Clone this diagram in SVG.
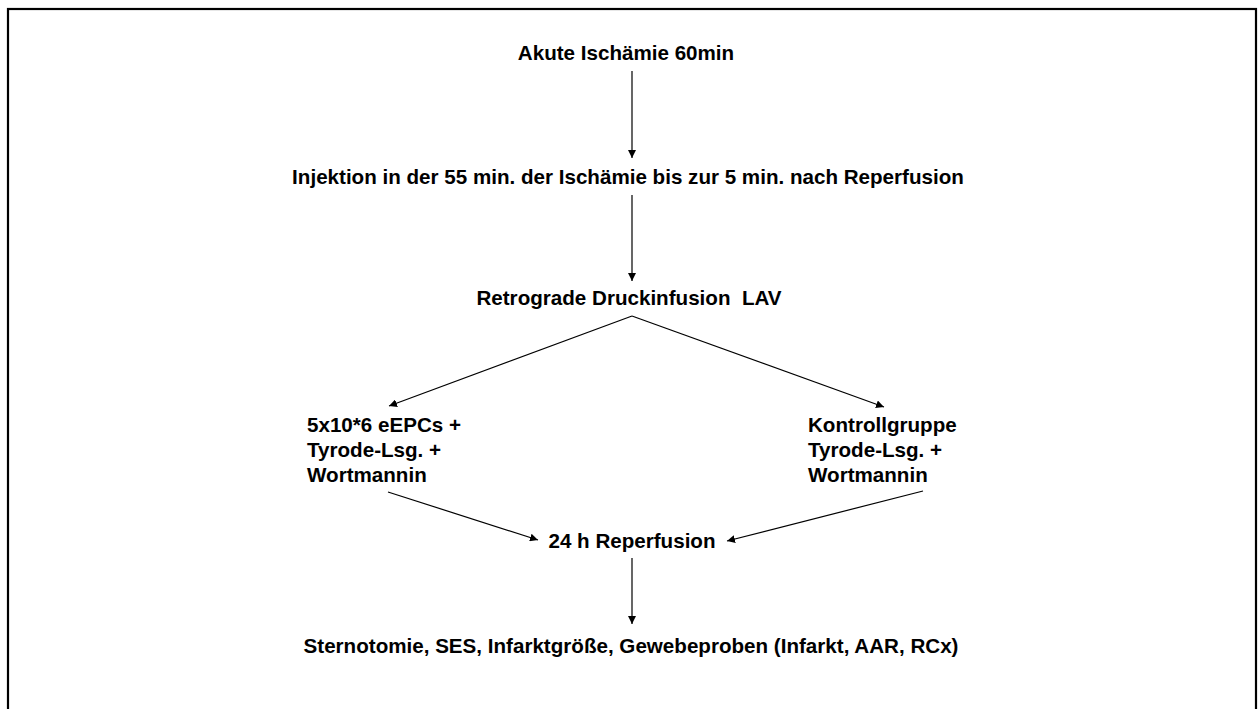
<svg xmlns="http://www.w3.org/2000/svg" width="1258" height="709" viewBox="0 0 1258 709">
<defs>
<style>
text{font-family:"Liberation Sans",Arial,sans-serif;font-weight:bold;font-size:20.6px;fill:#000}
.c{text-anchor:middle}
line{stroke:#000;stroke-width:1.2}
</style>
<marker id="ah" viewBox="0 0 10 10" refX="10" refY="5" markerWidth="8" markerHeight="8" markerUnits="userSpaceOnUse" orient="auto">
<path d="M0,0 L10,5 L0,10 z" fill="#000"/>
</marker>
</defs>
<rect x="0" y="0" width="1258" height="709" fill="#fff"/>
<rect x="8" y="9" width="1248" height="720" fill="none" stroke="#000" stroke-width="2.2"/>
<g id="n1"><text class="c" x="626" y="60">Akute Ischämie 60min</text></g>
<g id="n2"><text class="c" x="628" y="184">Injektion in der 55 min. der Ischämie bis zur 5 min. nach Reperfusion</text></g>
<g id="n3"><text class="c" x="629" y="305" xml:space="preserve">Retrograde Druckinfusion  LAV</text></g>
<g id="n4"><text x="307" y="432">5x10*6 eEPCs +</text><text x="307" y="457">Tyrode-Lsg. +</text><text x="307" y="482">Wortmannin</text></g>
<g id="n5"><text x="808" y="432">Kontrollgruppe</text><text x="808" y="457">Tyrode-Lsg. +</text><text x="808" y="482">Wortmannin</text></g>
<g id="n6"><text class="c" x="632" y="548">24 h Reperfusion</text></g>
<g id="n7"><text class="c" x="631" y="653">Sternotomie, SES, Infarktgröße, Gewebeproben (Infarkt, AAR, RCx)</text></g>
<g id="connectors">
<line x1="632" y1="71" x2="632" y2="158" marker-end="url(#ah)"/>
<line x1="632" y1="195" x2="632" y2="281" marker-end="url(#ah)"/>
<line x1="632" y1="316" x2="389" y2="406" marker-end="url(#ah)"/>
<line x1="632" y1="316" x2="884" y2="407" marker-end="url(#ah)"/>
<line x1="388" y1="492" x2="538" y2="540" marker-end="url(#ah)"/>
<line x1="923" y1="491" x2="727" y2="541" marker-end="url(#ah)"/>
<line x1="632" y1="558" x2="632" y2="624" marker-end="url(#ah)"/>
</g>
</svg>
